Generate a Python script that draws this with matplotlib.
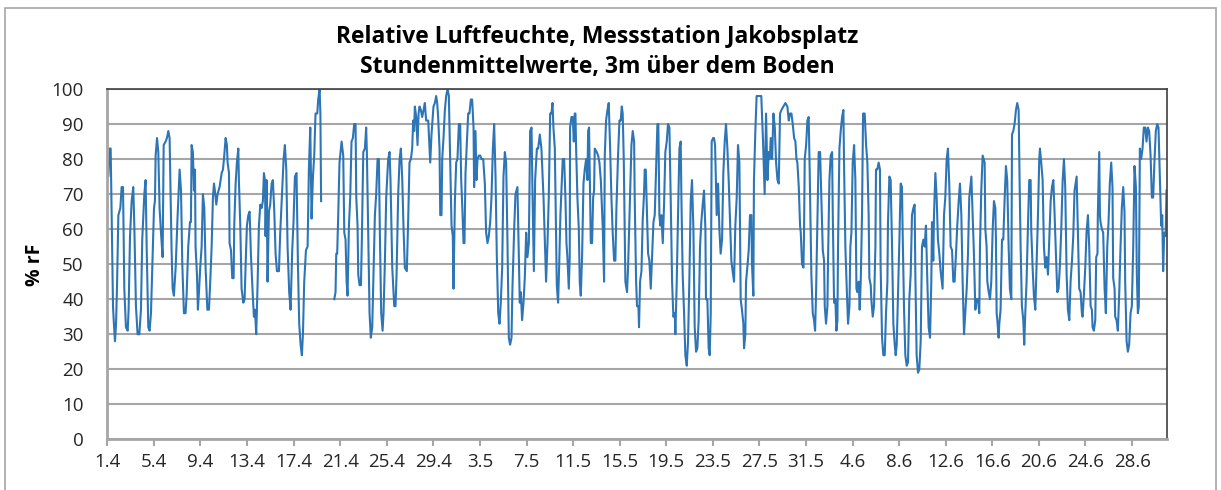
import numpy as np
import matplotlib.pyplot as plt
from matplotlib.patches import Rectangle

# Relative Luftfeuchte (Stundenmittel).
# day: Tage seit 1.4. 0 Uhr, rh: % rF; nan = Datenluecke
day = [
    0.00, 0.09, 0.20, 0.29, 0.35, 0.49, 0.55, 0.66, 0.75, 0.83, 0.95, 1.12, 1.23, 1.35, 1.46, 1.60,
    1.75, 1.83, 1.95, 2.09, 2.23, 2.32, 2.46, 2.60, 2.75, 2.89, 3.00, 3.18, 3.29, 3.38, 3.52, 3.63,
    3.75, 3.86, 4.01, 4.09, 4.15, 4.27, 4.38, 4.49, 4.61, 4.75, 4.84, 5.01, 5.12, 5.24, 5.35, 5.44,
    5.52, 5.61, 5.72, 5.87, 6.04, 6.21, 6.33, 6.44, 6.58, 6.72, 6.81, 6.95, 7.10, 7.18, 7.24, 7.35,
    7.44, 7.53, 7.58, 7.70, 7.78, 7.87, 7.98, 8.10, 8.21, 8.33, 8.44, 8.59, 8.73, 8.84, 8.96, 9.07,
    9.16, 9.24, 9.36, 9.47, 9.64, 9.82, 9.93, 10.02, 10.16, 10.27, 10.33, 10.45, 10.50, 10.62, 10.73, 10.85,
    10.90, 11.02, 11.13, 11.25, 11.30, 11.42, 11.53, 11.68, 11.79, 11.88, 11.99, 12.11, 12.22, 12.33, 12.48, 12.59,
    12.68, 12.79, 12.91, 13.02, 13.14, 13.25, 13.36, 13.45, 13.54, 13.59, 13.68, 13.76, 13.88, 13.99, 14.11, 14.22,
    14.34, 14.45, 14.57, 14.74, 14.85, 14.99, 15.14, 15.25, 15.37, 15.48, 15.62, 15.74, 15.88, 15.99, 16.11, 16.25,
    16.37, 16.48, 16.60, 16.71, 16.80, 16.91, 17.06, 17.20, 17.31, 17.43, 17.54, 17.66, 17.77, 17.88, 18.03, 18.11,
    18.23, 18.30, 18.36, 19.00,
    19.49, 19.60, 19.66, 19.74, 19.83, 19.94, 20.12, 20.26, 20.35, 20.46, 20.55, 20.63, 20.75, 20.86, 20.97, 21.09,
    21.20, 21.32, 21.38, 21.49, 21.55, 21.66, 21.78, 21.86, 21.98, 22.12, 22.23, 22.29, 22.41, 22.52, 22.63, 22.75,
    22.83, 22.98, 23.09, 23.21, 23.32, 23.41, 23.52, 23.64, 23.72, 23.84, 23.95, 24.12, 24.24, 24.32, 24.47, 24.64,
    24.75, 24.84, 24.98, 25.10, 25.21, 25.33, 25.44, 25.55, 25.72, 25.84, 25.95, 26.07, 26.18, 26.27, 26.35, 26.41,
    26.53, 26.64, 26.73, 26.81, 26.93, 27.04, 27.16, 27.27, 27.38, 27.56, 27.67, 27.73, 27.84, 28.01,
    28.13, 28.24, 28.33, 28.41, 28.53, 28.59, 28.70, 28.76, 28.87, 28.99, 29.10, 29.22, 29.33, 29.44, 29.56, 29.67,
    29.73, 29.85, 29.96, 30.07, 30.19, 30.30, 30.39, 30.50, 30.59, 30.67, 30.76, 30.88, 30.99, 31.10, 31.22, 31.33,
    31.45, 31.50, 31.62, 31.70, 31.79, 31.91, 32.02, 32.13, 32.28, 32.42, 32.53, 32.65, 32.76, 32.88, 32.99, 33.11,
    33.22, 33.34, 33.45, 33.57, 33.68, 33.79, 33.91, 34.02, 34.14, 34.25, 34.37, 34.48, 34.59, 34.71, 34.79, 34.94,
    35.05, 35.22, 35.34, 35.42, 35.51, 35.62, 35.74, 35.85, 35.97, 36.08, 36.20, 36.31, 36.43, 36.51, 36.63, 36.74,
    36.89, 37.00, 37.14, 37.28, 37.46,
    37.57, 37.68, 37.80, 37.91, 38.03, 38.14, 38.23, 38.31, 38.43, 38.51, 38.60, 38.71, 38.80, 38.91, 39.00, 39.11,
    39.23, 39.34, 39.43, 39.51, 39.63, 39.71, 39.74, 39.86, 39.97, 40.06, 40.14, 40.20, 40.26, 40.37, 40.49, 40.57,
    40.66, 40.77, 40.89, 41.00, 41.12, 41.23, 41.29, 41.37, 41.46, 41.52, 41.63, 41.72, 41.80, 41.86, 42.03, 42.15,
    42.26, 42.38, 42.55, 42.66, 42.72, 42.83, 42.95, 43.06, 43.18, 43.29, 43.40, 43.52, 43.63, 43.72, 43.86, 43.98,
    44.09, 44.18, 44.26, 44.35, 44.43, 44.49, 44.63, 44.72, 44.86, 45.01, 45.12, 45.24, 45.29, 45.41, 45.49, 45.61,
    45.66, 45.75, 45.87, 45.98, 46.09, 46.15, 46.24, 46.32, 46.44, 46.55, 46.67, 46.78, 46.90,
    47.01, 47.12, 47.24, 47.32, 47.41, 47.49, 47.58, 47.70, 47.81, 47.92, 48.04, 48.15, 48.27, 48.38, 48.50, 48.61,
    48.73, 48.78, 48.90, 49.01, 49.13, 49.24, 49.30, 49.41, 49.53, 49.64, 49.76, 49.87, 49.98, 50.10, 50.21, 50.33,
    50.44, 50.56, 50.67, 50.78, 50.90, 51.01, 51.13, 51.24, 51.36, 51.41, 51.53, 51.64, 51.73, 51.82, 51.90, 52.02,
    52.10, 52.19, 52.33, 52.45, 52.56, 52.67, 52.79, 52.90, 53.02, 53.13, 53.25, 53.36, 53.47, 53.59, 53.70, 53.82,
    53.93, 54.05, 54.16, 54.28, 54.39, 54.50, 54.62, 54.68, 54.79, 54.85, 54.96, 55.08, 55.19, 55.31, 55.36, 55.48,
    55.53, 55.65, 55.76, 55.88, 55.99, 56.16, 56.31, 56.45,
    56.57, 56.69, 56.80, 56.89, 56.97, 57.09, 57.20, 57.32, 57.43, 57.55, 57.66, 57.77, 57.89, 58.06, 58.23, 58.40,
    58.52, 58.63, 58.75, 58.86, 58.98, 59.09, 59.18, 59.26, 59.38, 59.49, 59.55, 59.66, 59.78, 59.83, 59.89, 60.01,
    60.12, 60.23, 60.32, 60.46, 60.58, 60.69, 60.78, 60.86, 60.98, 61.09, 61.21, 61.32, 61.44, 61.55, 61.61, 61.72,
    61.84, 61.89, 62.01, 62.12, 62.24, 62.30, 62.41, 62.52, 62.61, 62.70, 62.75, 62.87, 62.98, 63.10, 63.21, 63.27,
    63.38, 63.50, 63.61, 63.73, 63.81, 63.90, 64.01, 64.13, 64.24, 64.33, 64.41, 64.53, 64.61, 64.70, 64.81, 64.90,
    65.04, 65.16, 65.27, 65.38, 65.44, 65.56, 65.61, 65.73, 65.84, 65.96, 66.01, 66.12, 66.24, 66.35, 66.41, 66.53,
    66.64, 66.76, 66.87, 66.99, 67.04, 67.16, 67.27, 67.39, 67.50, 67.62, 67.70, 67.79, 67.90, 68.02, 68.13, 68.24,
    68.30, 68.42, 68.53, 68.65, 68.76, 68.87, 68.99, 69.10, 69.22, 69.33, 69.39, 69.50, 69.62, 69.73, 69.85, 69.96,
    70.08, 70.19, 70.30, 70.42, 70.53, 70.65, 70.76, 70.82, 70.93, 70.99, 71.11, 71.22, 71.33, 71.45, 71.56, 71.73,
    71.85, 71.96, 72.08, 72.19, 72.31, 72.42, 72.54, 72.65, 72.76, 72.88, 72.99, 73.11, 73.22, 73.34, 73.45, 73.57,
    73.68, 73.80, 73.91, 74.02, 74.20, 74.31, 74.42, 74.54, 74.65, 74.77, 74.88, 74.94, 75.05, 75.17,
    75.34, 75.40, 75.51, 75.57, 75.69, 75.80, 75.91, 76.03, 76.14, 76.26, 76.31, 76.37, 76.43, 76.54, 76.60, 76.71,
    76.83, 76.94, 77.05, 77.17, 77.28, 77.40, 77.51, 77.63, 77.69, 77.80, 77.91, 78.03, 78.14, 78.26, 78.34, 78.43,
    78.54, 78.66, 78.74, 78.83, 78.94, 79.06, 79.17, 79.29, 79.34, 79.46, 79.57, 79.69, 79.80, 79.92, 80.03, 80.09,
    80.20, 80.32, 80.43, 80.55, 80.66, 80.78, 80.89, 81.01, 81.12, 81.24, 81.35, 81.46, 81.58, 81.69, 81.81, 81.92,
    82.04, 82.15, 82.26, 82.38, 82.49, 82.61, 82.72, 82.84, 82.95, 83.06, 83.24, 83.35, 83.46, 83.58, 83.69, 83.75,
    83.86, 83.98, 84.09, 84.21,
    84.32, 84.44, 84.55, 84.61, 84.72, 84.84, 84.92, 85.03, 85.06, 85.18, 85.24, 85.29, 85.41, 85.52, 85.64, 85.75,
    85.87, 85.98, 86.09, 86.21, 86.32, 86.38, 86.50, 86.55, 86.67, 86.78, 86.90, 87.01, 87.12, 87.24, 87.35, 87.41,
    87.53, 87.64, 87.75, 87.87, 87.98, 88.10, 88.21, 88.33, 88.41, 88.50, 88.58, 88.67, 88.78, 88.90, 89.01, 89.13,
    89.24, 89.35, 89.47, 89.59, 89.70, 89.81, 89.93, 90.04, 90.16, 90.27, 90.39, 90.50, 90.59, 90.67, 90.76, 90.88,
    90.96,
]
rh = [
    75, 75, 83, 83, 70, 38, 34, 28, 33, 43, 64, 66, 72, 72, 43, 32,
    31, 37, 58, 68, 72, 61, 38, 30, 30, 37, 57, 70, 74, 55, 32, 31,
    36, 49, 66, 68, 81, 86, 82, 66, 59, 52, 84, 85, 86, 88, 86, 69,
    54, 43, 41, 49, 64, 77, 71, 50, 36, 36, 41, 55, 62, 62, 84, 82,
    71, 77, 55, 47, 37, 42, 49, 55, 70, 66, 49, 37, 37, 45, 55, 69,
    73, 71, 67, 70, 72, 76, 77, 80, 86, 84, 79, 76, 56, 54, 46, 46,
    61, 73, 79, 83, 74, 61, 43, 39, 40, 50, 61, 64, 65, 53, 42, 35,
    37, 30, 45, 61, 67, 66, 68, 76, 74, 58, 74, 45, 65, 67, 73, 74,
    65, 53, 48, 48, 59, 69, 80, 84, 77, 55, 42, 37, 54, 62, 75, 76,
    50, 33, 27, 24, 30, 45, 54, 55, 77, 89, 63, 75, 81, 93, 93, 97,
    100, 93, 68, np.nan,
    40, 42, 53, 53, 64, 79, 85, 81, 59, 57, 45, 41, 61, 69, 85, 86,
    90, 90, 69, 61, 47, 44, 44, 57, 82, 83, 89, 82, 57, 36, 29, 32,
    43, 64, 70, 80, 80, 58, 36, 31, 36, 51, 69, 80, 82, 74, 49, 38,
    38, 47, 70, 80, 83, 74, 60, 49, 48, 63, 79, 80, 83, 91, 88, 95,
    92, 84, 93, 95, 94, 92, 94, 96, 91, 91, 83, 79, 87, 95,
    96, 98, 96, 92, 83, 64, 64, 80, 86, 94, 98, 100, 98, 80, 61, 58,
    43, 68, 79, 80, 90, 90, 74, 65, 56, 56, 76, 85, 93, 93, 97, 97,
    89, 72, 88, 74, 80, 81, 81, 80, 80, 73, 59, 56, 58, 62, 69, 83,
    90, 75, 52, 36, 33, 39, 49, 75, 82, 79, 55, 29, 27, 29, 43, 60,
    70, 72, 53, 39, 42, 34, 39, 46, 59, 52, 56, 88, 89, 71, 48, 74,
    83, 83, 87, 83, 69,
    57, 45, 56, 69, 93, 93, 96, 89, 83, 64, 44, 39, 49, 64, 71, 80,
    80, 69, 56, 52, 43, 52, 89, 92, 92, 85, 93, 93, 83, 69, 60, 45,
    41, 52, 73, 77, 80, 74, 88, 89, 69, 56, 56, 69, 71, 83, 82, 81,
    79, 74, 60, 45, 81, 91, 94, 96, 83, 69, 59, 51, 51, 66, 81, 91,
    91, 95, 93, 80, 61, 45, 42, 49, 66, 84, 88, 85, 69, 45, 38, 38,
    32, 45, 48, 63, 70, 77, 77, 67, 53, 51, 43, 52, 62,
    64, 76, 90, 90, 64, 61, 64, 56, 67, 82, 85, 90, 89, 69, 45, 35,
    36, 30, 45, 64, 83, 85, 69, 47, 36, 24, 21, 28, 45, 68, 74, 60,
    32, 25, 26, 34, 55, 62, 67, 71, 60, 40, 40, 26, 24, 36, 85, 86,
    86, 84, 64, 73, 60, 53, 57, 76, 85, 90, 83, 74, 63, 51, 48, 45,
    61, 69, 84, 79, 40, 37, 33, 26, 30, 45, 49, 54, 64, 64, 50, 41,
    74, 88, 98, 98, 98, 98, 85, 70,
    93, 74, 82, 80, 86, 80, 93, 89, 79, 74, 73, 93, 94, 95, 96, 95,
    91, 93, 93, 90, 86, 85, 80, 79, 72, 61, 59, 50, 49, 59, 80, 84,
    91, 92, 76, 47, 36, 34, 31, 41, 62, 82, 82, 69, 54, 51, 38, 33,
    38, 51, 74, 81, 82, 64, 39, 40, 31, 34, 55, 83, 88, 92, 94, 78,
    55, 43, 33, 38, 55, 59, 79, 84, 74, 43, 42, 45, 37, 45, 64, 93,
    93, 84, 79, 64, 46, 44, 40, 35, 38, 55, 77, 77, 79, 77, 49, 29,
    24, 24, 36, 45, 62, 75, 74, 55, 33, 27, 24, 27, 41, 57, 73, 72,
    59, 37, 24, 21, 22, 40, 47, 64, 66, 67, 47, 24, 19, 20, 28, 55,
    57, 55, 61, 45, 32, 29, 45, 62, 51, 64, 76, 69, 57, 53, 48, 43,
    64, 69, 80, 83, 72, 55, 54, 45, 45, 53, 61, 68, 73, 64, 45, 30,
    36, 43, 53, 69, 75, 64, 53, 37, 40, 40, 36, 55, 71, 81,
    79, 60, 55, 45, 42, 40, 45, 60, 68, 66, 57, 36, 34, 29, 33, 37,
    57, 57, 68, 78, 74, 55, 43, 40, 87, 88, 90, 94, 96, 94, 74, 55,
    38, 34, 27, 36, 45, 61, 74, 74, 60, 49, 41, 37, 50, 64, 80, 83,
    79, 74, 55, 49, 52, 47, 57, 68, 72, 74, 64, 53, 42, 43, 50, 60,
    74, 80, 72, 47, 37, 34, 45, 51, 58, 71, 75, 59, 43, 42, 36, 35,
    41, 49, 59, 64,
    55, 38, 37, 32, 31, 34, 52, 53, 64, 82, 64, 62, 60, 59, 43, 36,
    55, 62, 73, 79, 72, 46, 43, 35, 34, 31, 42, 55, 66, 72, 65, 45,
    28, 25, 27, 36, 38, 55, 78, 72, 47, 36, 38, 83, 80, 83, 89, 89,
    85, 89, 88, 81, 69, 69, 80, 88, 90, 89, 74, 61, 64, 48, 59, 58,
    71,
]

tick_labels = ["1.4", "5.4", "9.4", "13.4", "17.4", "21.4", "25.4", "29.4",
               "3.5", "7.5", "11.5", "15.5", "19.5", "23.5", "27.5", "31.5",
               "4.6", "8.6", "12.6", "16.6", "20.6", "24.6", "28.6"]
n_days = 91

plt.rcParams['font.family'] = ['Open Sans', 'DejaVu Sans']

fig = plt.figure(figsize=(12.21, 4.90), dpi=100)
ax = fig.add_axes([107.3 / 1221, 1 - 439.3 / 490, (1167 - 107.3) / 1221, (439.3 - 89) / 490])

ax.plot(day, rh, color='#2E75B6', lw=1.5)

ax.set_xlim(0, n_days)
ax.set_ylim(0, 100)
ax.set_yticks(range(0, 101, 10))
ax.set_xticks(np.arange(len(tick_labels)) * 4)
ax.set_xticklabels(tick_labels)
ax.yaxis.grid(True, color='#A6A6A6', lw=1.5)
ax.set_axisbelow(True)

ax.tick_params(axis='y', length=0, pad=17, labelsize=13.5, labelcolor='#262626')
ax.tick_params(axis='x', length=5, width=1.5, color='#A6A6A6', pad=5, labelsize=13.5,
               labelcolor='#262626')
for s in ['top', 'right']:
    ax.spines[s].set_color('#3F3F3F')
    ax.spines[s].set_linewidth(1.2)
for s in ['left', 'bottom']:
    ax.spines[s].set_color('#A6A6A6')
    ax.spines[s].set_linewidth(2)

fig.text(597 / 1221, 1 - 37 / 490, "Relative Luftfeuchte, Messstation Jakobsplatz",
         ha='center', va='center', fontsize=16.5, fontweight='bold')
fig.text(597 / 1221, 1 - 67 / 490, "Stundenmittelwerte, 3m über dem Boden",
         ha='center', va='center', fontsize=16.5, fontweight='bold')
fig.text(35 / 1221, 1 - 265 / 490, "% rF", rotation=90, ha='center', va='center',
         fontsize=14, fontweight='bold')

# Rahmen um das Diagramm
fig.patches.append(Rectangle((5 / 1221, -0.1), (1216 - 5) / 1221, 1 - 8 / 490 + 0.1,
                             transform=fig.transFigure, fill=False, ec='#A6A6A6', lw=1.2))

fig.savefig("out.png", dpi=100)
